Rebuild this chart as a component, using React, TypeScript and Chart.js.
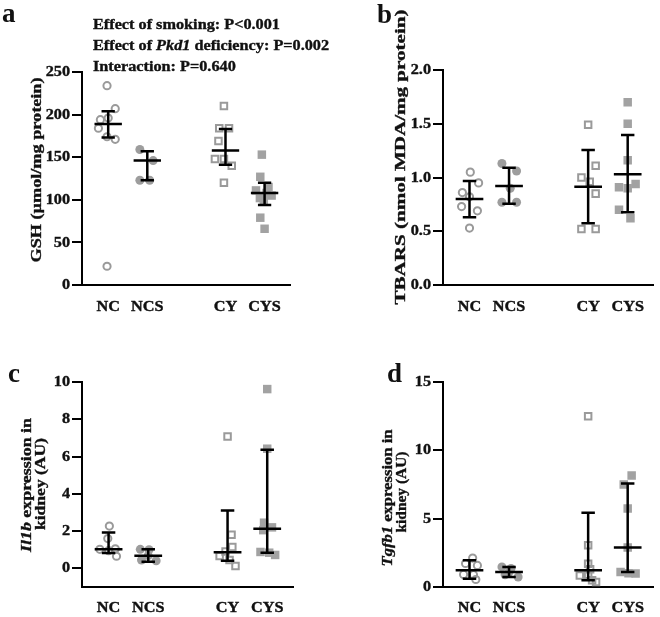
import React, { useEffect, useRef } from "react";
import { Chart, registerables } from "chart.js";
Chart.register(...registerables);

// ---------- shared categories ----------
const categories = ["NC", "NCS", "CY", "CYS"];
const categoryPositions = [1, 2, 4, 5];

// ---------- a: GSH ----------
const gshNC = [234, 207, 196, 194, 184, 174, 171, 22];
const gshNCS = [159, 146, 123, 123];
const gshCY = [210, 184, 184, 169, 148, 148, 140, 120];
const gshCYS = [153, 127, 115, 111, 108, 105, 102, 100, 79, 66];
const gshNCJitter = [-0.03, 0.18, 0, -0.2, -0.25, -0.03, 0.18, -0.03];
const gshNCSJitter = [-0.19, 0.15, -0.19, 0.06];
const gshCYJitter = [-0.04, -0.16, 0.09, -0.18, -0.27, -0.04, 0.16, -0.04];
const gshCYSJitter = [-0.07, -0.11, 0.1, -0.22, 0.05, 0.18, -0.12, -0.02, -0.11, 0];
const gshCenter = [189, 146, 158, 108];
const gshLower = [173, 123, 141, 94];
const gshUpper = [204, 157, 183, 120];
const gshTicks = [0, 50, 100, 150, 200, 250];
const gshTickLabels = ["0", "50", "100", "150", "200", "250"];

// ---------- b: TBARS ----------
const tbarsNC = [1.05, 0.95, 0.86, 0.82, 0.73, 0.69, 0.53];
const tbarsNCS = [1.13, 1.06, 0.9, 0.77, 0.77];
const tbarsCY = [1.49, 1.11, 1.0, 0.96, 0.85, 0.52, 0.52];
const tbarsCYS = [1.7, 1.5, 1.16, 0.94, 0.91, 0.9, 0.7, 0.62];
const tbarsNCJitter = [0.02, 0.23, -0.18, 0, -0.2, 0.2, 0];
const tbarsNCSJitter = [-0.18, 0.19, 0.03, -0.18, 0.19];
const tbarsCYJitter = [0, 0.19, -0.17, 0.04, 0.19, -0.17, 0.19];
const tbarsCYSJitter = [0, 0, 0, 0.2, -0.22, 0, -0.22, 0.07];
const tbarsCenter = [0.8, 0.92, 0.915, 1.03];
const tbarsLower = [0.63, 0.755, 0.574, 0.676];
const tbarsUpper = [0.967, 1.09, 1.256, 1.395];
const tbarsTicks = [0, 0.5, 1, 1.5, 2];
const tbarsTickLabels = ["0.0", "0.5", "1.0", "1.5", "2.0"];

// ---------- c: Il1b ----------
const il1bNC = [2.27, 1.6, 1.05, 1.02, 0.95, 0.65];
const il1bNCS = [1.02, 1.0, 0.68, 0.45, 0.41];
const il1bCY = [7.08, 1.8, 1.15, 0.9, 0.66, 0.45, 0.13];
const il1bCYS = [9.62, 6.42, 2.45, 2.2, 2.05, 0.88, 0.84, 0.72];
const il1bNCJitter = [0.02, -0.02, 0.17, -0.22, 0, 0.2];
const il1bNCSJitter = [-0.2, 0.02, 0, -0.17, 0.2];
const il1bCYJitter = [0, 0.1, 0.12, -0.05, -0.2, 0.05, 0.2];
const il1bCYSJitter = [0, 0, -0.08, 0.12, -0.1, -0.17, 0.05, 0.2];
const il1bCenter = [1.02, 0.68, 0.86, 2.13];
const il1bLower = [0.82, 0.36, 0.41, 0.84];
const il1bUpper = [1.92, 1.02, 3.1, 6.36];
const il1bTicks = [0, 2, 4, 6, 8, 10];
const il1bTickLabels = ["0", "2", "4", "6", "8", "10"];

// ---------- d: Tgfb1 ----------
const tgfb1NC = [2.12, 1.72, 1.58, 0.92, 0.9, 0.55];
const tgfb1NCS = [1.47, 1.35, 1.1, 0.9, 0.73];
const tgfb1CY = [12.5, 3.05, 1.7, 1.3, 0.9, 0.85, 0.5, 0.37];
const tgfb1CYS = [8.15, 7.5, 5.75, 2.89, 1.1, 1.0, 0.98];
const tgfb1NCJitter = [0.08, -0.1, 0.2, -0.15, 0.1, 0.16];
const tgfb1NCSJitter = [-0.18, 0.05, 0, -0.1, 0.23];
const tgfb1CYJitter = [0, 0, 0, 0.05, 0, -0.21, 0.1, 0.2];
const tgfb1CYSJitter = [0.1, -0.1, 0, 0, -0.18, 0.02, 0.2];
const tgfb1Center = [1.22, 1.1, 1.22, 2.89];
const tgfb1Lower = [0.61, 0.73, 0.49, 1.1];
const tgfb1Upper = [1.96, 1.47, 5.43, 7.58];
const tgfb1Ticks = [0, 5, 10, 15];
const tgfb1TickLabels = ["0", "5", "10", "15"];

// ---------- drawing helpers ----------
const SERIF = '"Liberation Serif", "Times New Roman", serif';
type Run = { t: string; i?: boolean };

function fontOf(size: number, italic?: boolean) {
  return `${italic ? "italic " : ""}bold ${size}px ${SERIF}`;
}
function runsWidth(ctx: CanvasRenderingContext2D, runs: Run[], size: number) {
  let w = 0;
  for (const r of runs) {
    ctx.font = fontOf(size, r.i);
    w += ctx.measureText(r.t).width;
  }
  return w;
}
function drawRuns(
  ctx: CanvasRenderingContext2D,
  runs: Run[],
  x: number,
  y: number,
  size: number,
  stretch: number,
  align: "left" | "center" | "right",
  baseline: CanvasTextBaseline,
  rotate = false
) {
  ctx.save();
  ctx.translate(x, y);
  if (rotate) ctx.rotate(-Math.PI / 2);
  ctx.scale(stretch, 1);
  const w = runsWidth(ctx, runs, size);
  let cx = align === "center" ? -w / 2 : align === "right" ? -w : 0;
  ctx.textAlign = "left";
  ctx.textBaseline = baseline;
  ctx.fillStyle = "#111";
  ctx.strokeStyle = "#111";
  ctx.lineWidth = 0.35;
  for (const r of runs) {
    ctx.font = fontOf(size, r.i);
    ctx.fillText(r.t, cx, 0);
    ctx.strokeText(r.t, cx, 0);
    cx += ctx.measureText(r.t).width;
  }
  ctx.restore();
}

const groupStyles = [
  { pointStyle: "circle", radius: 3.6, borderWidth: 2, fill: "rgba(0,0,0,0)", stroke: "#9a9a9a" },
  { pointStyle: "circle", radius: 4.5, borderWidth: 0, fill: "#9d9d9d", stroke: "#9d9d9d" },
  { pointStyle: "rect", radius: 4.6, borderWidth: 2, fill: "rgba(0,0,0,0)", stroke: "#9a9a9a" },
  { pointStyle: "rect", radius: 6, borderWidth: 0, fill: "#a2a2a2", stroke: "#a2a2a2" },
];

interface PanelSpec {
  left: number;
  top: number;
  width: number;
  height: number;
  areaLeft: number;
  areaRight: number;
  areaTop: number;
  areaBottom: number;
  yMin: number;
  yMax: number;
  ticks: number[];
  tickLabels: string[];
  groups: number[][];
  jitters: number[][];
  center: number[];
  lower: number[];
  upper: number[];
  letter: string;
  letterX: number;
  letterY: number;
  titleLines: Run[][];
  titleX: number[];
  titleY: number[];
  titleLen: number[];
  notes?: Run[][];
  noteX?: number;
  noteY?: number[];
  labelGap: number;
}

const panels: PanelSpec[] = [
  {
    left: 0, top: 0, width: 330, height: 317,
    areaLeft: 82, areaRight: 290, areaTop: 72, areaBottom: 285,
    yMin: 0, yMax: 250, ticks: gshTicks, tickLabels: gshTickLabels,
    groups: [gshNC, gshNCS, gshCY, gshCYS],
    jitters: [gshNCJitter, gshNCSJitter, gshCYJitter, gshCYSJitter],
    center: gshCenter, lower: gshLower, upper: gshUpper,
    letter: "a", letterX: 2, letterY: 22,
    titleLines: [[{ t: "GSH (µmol/mg protein)" }]],
    titleX: [37], titleY: [170], titleLen: [185],
    notes: [
      [{ t: "Effect of smoking: P<0.001" }],
      [{ t: "Effect of " }, { t: "Pkd1", i: true }, { t: " deficiency: P=0.002" }],
      [{ t: "Interaction: P=0.640" }],
    ],
    noteX: 93, noteY: [29, 50, 71],
    labelGap: 26,
  },
  {
    left: 330, top: 0, width: 330, height: 317,
    areaLeft: 113, areaRight: 329, areaTop: 70, areaBottom: 285,
    yMin: 0, yMax: 2, ticks: tbarsTicks, tickLabels: tbarsTickLabels,
    groups: [tbarsNC, tbarsNCS, tbarsCY, tbarsCYS],
    jitters: [tbarsNCJitter, tbarsNCSJitter, tbarsCYJitter, tbarsCYSJitter],
    center: tbarsCenter, lower: tbarsLower, upper: tbarsUpper,
    letter: "b", letterX: 47, letterY: 23,
    titleLines: [[{ t: "TBARS (nmol MDA/mg protein)" }]],
    titleX: [71], titleY: [157], titleLen: [295],
    labelGap: 26,
  },
  {
    left: 0, top: 317, width: 330, height: 300,
    areaLeft: 82, areaRight: 293, areaTop: 65, areaBottom: 270,
    yMin: -1, yMax: 10, ticks: il1bTicks, tickLabels: il1bTickLabels,
    groups: [il1bNC, il1bNCS, il1bCY, il1bCYS],
    jitters: [il1bNCJitter, il1bNCSJitter, il1bCYJitter, il1bCYSJitter],
    center: il1bCenter, lower: il1bLower, upper: il1bUpper,
    letter: "c", letterX: 8, letterY: 65,
    titleLines: [
      [{ t: "Il1b", i: true }, { t: " expression in" }],
      [{ t: "kidney (AU)" }],
    ],
    titleX: [27, 41], titleY: [168, 167], titleLen: [134, 92],
    labelGap: 25,
  },
  {
    left: 330, top: 317, width: 330, height: 300,
    areaLeft: 113, areaRight: 329, areaTop: 65, areaBottom: 270,
    yMin: 0, yMax: 15, ticks: tgfb1Ticks, tickLabels: tgfb1TickLabels,
    groups: [tgfb1NC, tgfb1NCS, tgfb1CY, tgfb1CYS],
    jitters: [tgfb1NCJitter, tgfb1NCSJitter, tgfb1CYJitter, tgfb1CYSJitter],
    center: tgfb1Center, lower: tgfb1Lower, upper: tgfb1Upper,
    letter: "d", letterX: 57, letterY: 65,
    titleLines: [
      [{ t: "Tgfb1", i: true }, { t: " expression in" }],
      [{ t: "kidney (AU)" }],
    ],
    titleX: [58, 72], titleY: [181, 175], titleLen: [137, 81],
    labelGap: 25,
  },
];

const MEDIAN_HALF = 0.35;
const CAP_HALF = 0.17;
const TEXT_SIZE = 14;
const TEXT_STRETCH = 1.16;

function buildConfig(p: PanelSpec): any {
  const datasets: any[] = [];
  // error bars (drawn on top)
  categoryPositions.forEach((pos, g) => {
    const c = p.center[g], lo = p.lower[g], hi = p.upper[g];
    datasets.push({
      type: "scatter",
      data: [
        { x: pos - MEDIAN_HALF, y: c },
        { x: pos + MEDIAN_HALF, y: c },
        { x: pos, y: null },
        { x: pos, y: lo },
        { x: pos, y: hi },
        { x: pos, y: null },
        { x: pos - CAP_HALF, y: hi },
        { x: pos + CAP_HALF, y: hi },
        { x: pos, y: null },
        { x: pos - CAP_HALF, y: lo },
        { x: pos + CAP_HALF, y: lo },
      ],
      showLine: true,
      spanGaps: false,
      borderColor: "#000",
      borderWidth: 2.5,
      pointRadius: 0,
      order: 0,
    });
  });
  // points
  categoryPositions.forEach((pos, g) => {
    const st = groupStyles[g];
    datasets.push({
      type: "scatter",
      data: p.groups[g].map((v, i) => ({ x: pos + p.jitters[g][i], y: v })),
      showLine: false,
      pointStyle: st.pointStyle,
      pointRadius: st.radius,
      pointBorderWidth: st.borderWidth,
      pointBackgroundColor: st.fill,
      pointBorderColor: st.stroke,
      order: 1,
    });
  });

  const textPlugin = {
    id: "panelText",
    afterDraw(chart: any) {
      const ctx: CanvasRenderingContext2D = chart.ctx;
      const xs = chart.scales.x;
      const ys = chart.scales.y;
      p.ticks.forEach((v, i) => {
        drawRuns(ctx, [{ t: p.tickLabels[i] }], ys.right - 12, ys.getPixelForValue(v) + 0.5, TEXT_SIZE, TEXT_STRETCH, "right", "middle");
      });
      categories.forEach((c, i) => {
        drawRuns(ctx, [{ t: c }], xs.getPixelForValue(categoryPositions[i]), xs.top + p.labelGap, TEXT_SIZE, TEXT_STRETCH, "center", "alphabetic");
      });
      ctx.save();
      ctx.font = `bold 27px ${SERIF}`;
      ctx.fillStyle = "#111";
      ctx.textAlign = "left";
      ctx.textBaseline = "alphabetic";
      ctx.fillText(p.letter, p.letterX, p.letterY);
      ctx.restore();
      p.titleLines.forEach((runs, k) => {
        const w = runsWidth(ctx, runs, 14.5);
        drawRuns(ctx, runs, p.titleX[k], p.titleY[k], 14.5, p.titleLen[k] / w, "center", "middle", true);
      });
      if (p.notes) {
        p.notes.forEach((runs, k) => {
          drawRuns(ctx, runs, p.noteX!, p.noteY![k], TEXT_SIZE, TEXT_STRETCH, "left", "alphabetic");
        });
      }
    },
  };

  return {
    type: "scatter",
    data: { datasets },
    options: {
      animation: false,
      responsive: false,
      devicePixelRatio: 1,
      events: [],
      layout: {
        padding: { left: 0, top: p.areaTop, right: p.width - p.areaRight, bottom: 0 },
      },
      plugins: { legend: { display: false }, tooltip: { enabled: false }, title: { display: false } },
      scales: {
        x: {
          type: "linear",
          min: 0.33,
          max: 5.65,
          grid: { display: false, drawTicks: false },
          border: { display: true, color: "#000", width: 2 },
          ticks: { display: false },
          afterFit: (s: any) => {
            s.height = p.height - p.areaBottom;
          },
        },
        y: {
          type: "linear",
          min: p.yMin,
          max: p.yMax,
          afterBuildTicks: (s: any) => {
            s.ticks = p.ticks.map((v) => ({ value: v }));
          },
          grid: {
            display: true,
            drawOnChartArea: false,
            drawTicks: true,
            tickLength: 10,
            color: "#000",
            tickColor: "#000",
            lineWidth: 2,
            tickWidth: 2,
          },
          border: { display: true, color: "#000", width: 2 },
          ticks: { display: false },
          afterFit: (s: any) => {
            s.width = p.areaLeft;
          },
        },
      },
    },
    plugins: [textPlugin],
  };
}

function Panel({ spec }: { spec: PanelSpec }) {
  const ref = useRef<HTMLCanvasElement>(null);
  useEffect(() => {
    const chart = new Chart(ref.current as HTMLCanvasElement, buildConfig(spec));
    return () => chart.destroy();
  }, [spec]);
  return (
    <canvas
      ref={ref}
      width={spec.width}
      height={spec.height}
      style={{
        position: "absolute",
        left: spec.left,
        top: spec.top,
        width: spec.width,
        height: spec.height,
      }}
    />
  );
}

export default function App() {
  return (
    <div
      style={{
        position: "absolute",
        left: 0,
        top: 0,
        width: 660,
        height: 617,
        background: "#fff",
        overflow: "hidden",
      }}
    >
      {panels.map((p, i) => (
        <Panel key={i} spec={p} />
      ))}
    </div>
  );
}
